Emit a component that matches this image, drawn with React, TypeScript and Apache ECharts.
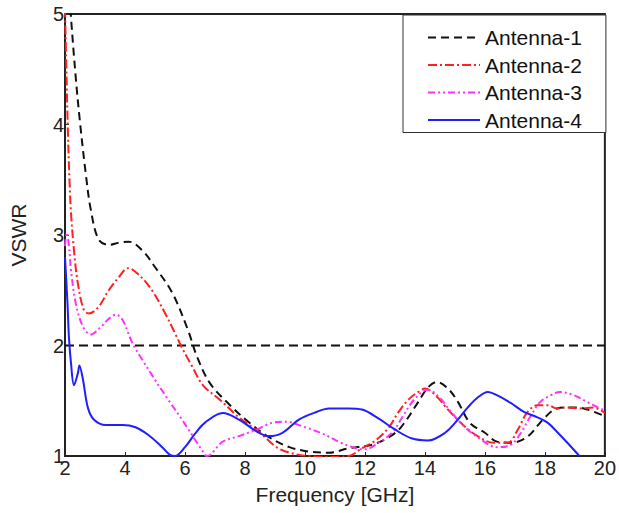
import React, { useEffect, useRef } from "react";
import * as echarts from "echarts";

const seriesNames = ["Antenna-1", "Antenna-2", "Antenna-3", "Antenna-4"];

const freq1 = [2.1, 2.2, 2.36, 2.5, 2.69, 2.86, 3.12, 3.46, 3.8, 4.12, 4.58, 5.0, 5.57, 6.1, 6.4, 6.83, 7.5, 8.15, 8.8, 9.48, 10.14, 10.8, 11.46, 12.2, 12.8, 13.2, 13.78, 14.1, 14.4, 14.77, 15.1, 15.5, 16.0, 16.4, 16.86, 17.4, 17.97, 18.4, 18.85, 19.3, 20.0];
const vswr1 = [5.4, 4.97, 4.42, 4.02, 3.56, 3.23, 2.96, 2.91, 2.93, 2.94, 2.86, 2.71, 2.48, 2.14, 1.9, 1.66, 1.46, 1.3, 1.17, 1.08, 1.04, 1.03, 1.07, 1.1, 1.17, 1.26, 1.49, 1.62, 1.67, 1.61, 1.49, 1.3, 1.21, 1.13, 1.12, 1.17, 1.34, 1.43, 1.44, 1.43, 1.36];

const freq2 = [2.0, 2.09, 2.15, 2.2, 2.3, 2.43, 2.63, 2.8, 3.12, 3.46, 3.8, 4.1, 4.46, 4.9, 5.34, 5.67, 5.9, 6.24, 6.6, 7.16, 7.8, 8.5, 9.05, 9.48, 10.1, 10.8, 11.46, 11.9, 12.35, 12.8, 13.1, 13.45, 13.78, 14.0, 14.35, 14.77, 15.2, 15.7, 16.3, 16.76, 17.1, 17.4, 17.75, 18.1, 18.4, 18.75, 19.2, 19.6, 20.0];
const vswr2 = [5.05, 4.0, 3.5, 3.2, 2.86, 2.56, 2.32, 2.29, 2.35, 2.5, 2.62, 2.7, 2.64, 2.5, 2.29, 2.11, 1.98, 1.81, 1.64, 1.51, 1.35, 1.21, 1.08, 1.03, 1.0, 0.99, 1.0, 1.07, 1.14, 1.26, 1.39, 1.51, 1.58, 1.61, 1.55, 1.42, 1.3, 1.19, 1.12, 1.12, 1.24, 1.39, 1.46, 1.46, 1.43, 1.44, 1.43, 1.44, 1.39];

const freq3 = [2.0, 2.06, 2.15, 2.2, 2.36, 2.6, 2.86, 3.2, 3.42, 3.69, 3.92, 4.25, 4.58, 5.0, 5.44, 5.9, 6.33, 6.6, 6.73, 7.26, 7.8, 8.4, 8.9, 9.38, 9.9, 10.6, 11.2, 11.7, 12.0, 12.45, 12.9, 13.2, 13.55, 13.9, 14.1, 14.45, 14.9, 15.34, 15.76, 16.4, 16.86, 17.2, 17.5, 17.85, 18.2, 18.5, 18.97, 19.4, 20.0];
const vswr3 = [2.9, 3.02, 2.85, 2.68, 2.38, 2.17, 2.1, 2.17, 2.23, 2.28, 2.23, 2.02, 1.87, 1.69, 1.51, 1.33, 1.15, 1.04, 1.0, 1.13, 1.18, 1.24, 1.3, 1.31, 1.27, 1.2, 1.12, 1.07, 1.06, 1.12, 1.21, 1.33, 1.48, 1.58, 1.6, 1.54, 1.39, 1.26, 1.17, 1.08, 1.1, 1.21, 1.35, 1.49, 1.55, 1.58, 1.55, 1.49, 1.41];

const freq4 = [2.0, 2.08, 2.13, 2.2, 2.3, 2.43, 2.48, 2.6, 2.76, 2.96, 3.36, 3.92, 4.35, 4.78, 5.24, 5.5, 5.67, 6.0, 6.33, 6.66, 7.26, 7.8, 8.4, 8.8, 9.25, 9.8, 10.4, 10.8, 11.46, 11.9, 12.45, 13.0, 13.55, 14.1, 14.67, 15.1, 15.43, 15.76, 16.1, 16.4, 16.86, 17.3, 17.75, 18.1, 18.4, 18.75, 19.15];
const vswr4 = [2.8, 2.4, 2.08, 1.84, 1.64, 1.75, 1.82, 1.69, 1.44, 1.33, 1.28, 1.28, 1.26, 1.19, 1.08, 1.01, 1.0, 1.08, 1.2, 1.3, 1.39, 1.33, 1.22, 1.18, 1.21, 1.33, 1.4, 1.43, 1.43, 1.42, 1.34, 1.24, 1.16, 1.14, 1.21, 1.33, 1.44, 1.53, 1.58, 1.55, 1.48, 1.4, 1.35, 1.3, 1.22, 1.12, 1.0];

const refFreq = [2, 20];
const refVswr = [2, 2];

const xTicks = [2, 4, 6, 8, 10, 12, 14, 16, 18, 20];
const yTicks = [1, 2, 3, 4, 5];

const colors = ["#111111", "#ff2020", "#ff30ff", "#1f1fff"];
const dashes: any[] = [[8, 5], [9, 3, 2, 3], [7, 3, 2, 3, 2, 3], "solid"];

const zip = (xs: number[], ys: number[]) => xs.map((x, i) => [x, ys[i]]);

const FONT = "'Liberation Sans', Arial, sans-serif";

export default function App() {
  const ref = useRef<HTMLDivElement>(null);
  useEffect(() => {
    if (!ref.current) return;
    const chart = echarts.init(ref.current, undefined, { renderer: "svg" });
    const datasets = [zip(freq1, vswr1), zip(freq2, vswr2), zip(freq3, vswr3), zip(freq4, vswr4)];
    const series: any[] = seriesNames.map((name, i) => ({
      name,
      type: "line",
      data: datasets[i],
      showSymbol: false,
      symbol: "none",
      smooth: 0.35,
      clip: true,
      lineStyle: { color: colors[i], width: 2, type: dashes[i] },
      itemStyle: { color: colors[i] },
      z: 3 + i,
    }));
    series.push({
      name: "ref",
      type: "line",
      data: zip(refFreq, refVswr),
      showSymbol: false,
      symbol: "none",
      silent: true,
      lineStyle: { color: "#111111", width: 2, type: [9, 5] },
      z: 2,
    });
    chart.setOption({
      animation: false,
      backgroundColor: "#ffffff",
      textStyle: { fontFamily: FONT },
      grid: {
        left: 64,
        top: 14,
        right: 11,
        bottom: 57,
        show: true,
        borderColor: "#222",
        borderWidth: 2,
        containLabel: false,
      },
      legend: {
        data: seriesNames,
        orient: "vertical",
        left: 403,
        top: 15,
        itemWidth: 52,
        itemHeight: 20,
        itemGap: 6.5,
        padding: [12, 24, 2, 24],
        backgroundColor: "#ffffff",
        borderColor: "#333",
        borderWidth: 1,
        borderRadius: 0,
        itemStyle: { opacity: 0, color: "rgba(0,0,0,0)", borderWidth: 0 },
        textStyle: { fontFamily: FONT, fontSize: 21, color: "#111" },
      },
      xAxis: {
        type: "value",
        min: xTicks[0],
        max: xTicks[xTicks.length - 1],
        interval: 2,
        name: "Frequency [GHz]",
        nameLocation: "middle",
        nameGap: 28,
        nameTextStyle: { fontFamily: FONT, fontSize: 21, color: "#222" },
        axisLine: { show: true, onZero: false, lineStyle: { color: "#222", width: 2 } },
        axisTick: { show: true, inside: true, length: 4, lineStyle: { color: "#222" } },
        axisLabel: { fontFamily: FONT, fontSize: 20, color: "#222", margin: 2 },
        splitLine: { show: false },
      },
      yAxis: {
        type: "value",
        min: yTicks[0],
        max: yTicks[yTicks.length - 1],
        interval: 1,
        name: "VSWR",
        nameLocation: "middle",
        nameGap: 36,
        nameTextStyle: { fontFamily: FONT, fontSize: 21, color: "#222" },
        axisLine: { show: true, onZero: false, lineStyle: { color: "#222", width: 2 } },
        axisTick: { show: true, inside: true, length: 4, lineStyle: { color: "#222" } },
        axisLabel: { fontFamily: FONT, fontSize: 20, color: "#222", margin: 1 },
        splitLine: { show: false },
      },
      series,
    });
    return () => chart.dispose();
  }, []);
  return (
    <div
      ref={ref}
      style={{ position: "fixed", left: 0, top: 0, width: 619, height: 513, background: "#fff" }}
    />
  );
}
